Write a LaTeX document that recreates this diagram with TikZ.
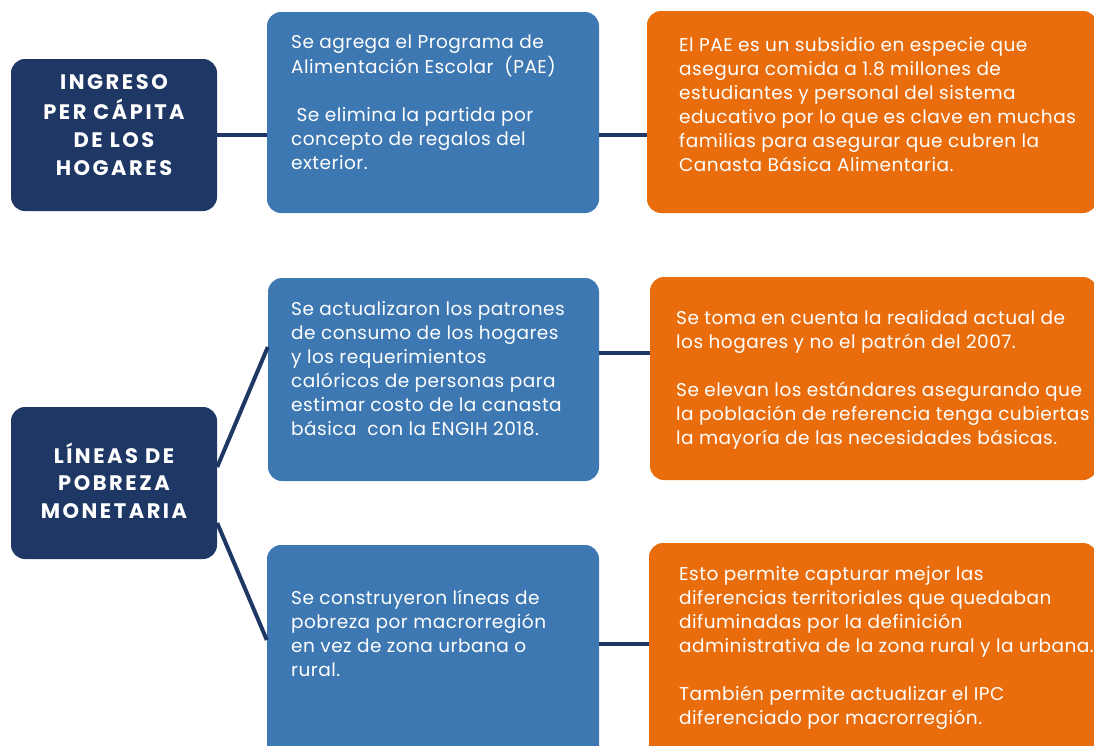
\documentclass[tikz,border=0pt]{standalone}
\usepackage{fontspec}
\setmainfont{Poppins}
\newfontfamily\bodyfont{Poppins}[LetterSpace=2.6]
\newfontfamily\titlefont{Poppins}[LetterSpace=12]
\definecolor{navy}{HTML}{1E3764}
\definecolor{midblue}{HTML}{3E78B2}
\definecolor{orng}{HTML}{E96D0C}
\begin{document}
\begin{tikzpicture}[x=1pt,y=-1pt,
  panel/.style={rectangle, rounded corners=14pt, inner sep=0pt, draw=none},
  navybox/.style={panel, fill=navy},
  bluebox/.style={panel, fill=midblue},
  orangebox/.style={panel, fill=orng},
  bodytext/.style={inner sep=0pt, anchor=north west, align=left, text=white, font=\bodyfont\fontsize{18.5}{24}\selectfont},
  titletext/.style={inner sep=0pt, anchor=north, align=center, text=white, font=\titlefont\bfseries\fontsize{21}{28}\selectfont},
  link/.style={draw=navy, line width=4pt}]
\useasboundingbox (0,0) rectangle (1094,745);
\clip (0,0) rectangle (1094,745);
% boxes
\node[navybox, minimum width=206pt, minimum height=152pt] (d1) at (114,135) {};
\node[bluebox, minimum width=332pt, minimum height=201pt] (b1) at (433,112.5) {};
\node[orangebox, minimum width=450pt, minimum height=202pt] (o1) at (872,112) {};
\node[navybox, minimum width=206pt, minimum height=152pt] (d2) at (114,483) {};
\node[bluebox, minimum width=331pt, minimum height=203pt] (b2) at (433.5,379.5) {};
\node[orangebox, minimum width=447pt, minimum height=203pt] (o2) at (873.5,378.5) {};
\node[bluebox, minimum width=332pt, minimum height=215pt] (b3) at (433,652.5) {};
\node[orangebox, minimum width=448pt, minimum height=217pt] (o3) at (873,651.5) {};
% connectors
\draw[link] (d1.east) -- (d1.east -| b1.west);
\draw[link] (b1.east |- d1.east) -- (o1.west |- d1.east);
\draw[link] ([yshift=16pt]d2.east) -- ([yshift=32.5pt]b2.west);
\draw[link] ([yshift=-40pt]d2.east) -- ([yshift=12.5pt]b3.west);
\draw[link] ([yshift=27pt]b2.east) -- ([yshift=26pt]o2.west);
\draw[link] ([yshift=8.5pt]b3.east) -- ([yshift=7.5pt]o3.west);
% titles
\node[titletext] (t1) at (114,69.4) {\strut INGRESO\\PER CÁPITA\\DE LOS\\HOGARES};
\node[titletext, font=\titlefont\bfseries\fontsize{21}{27.5}\selectfont] (t2) at (114,442.7) {\strut LÍNEAS DE\\POBREZA\\MONETARIA};
% body texts
\node[bodytext] (x1) at (291,31.2) {\strut Se agrega el Programa de\\Alimentación Escolar\ \ (PAE)\\[24pt]\ Se elimina la partida por\\concepto de regalos del\\exterior.};
\node[bodytext] (y1) at (679,34.2) {\strut El PAE es un subsidio en especie que\\asegura comida a 1.8 millones de\\estudiantes y personal del sistema\\educativo por lo que es clave en muchas\\familias para asegurar que cubren la\\Canasta Básica Alimentaria.};
\node[bodytext] (x2) at (291,298.2) {\strut Se actualizaron los patrones\\de consumo de los hogares\\y los requerimientos\\calóricos de personas para\\estimar costo de la canasta\\básica\ \ con la ENGIH 2018.};
\node[bodytext] (y2) at (676,307.2) {\strut Se toma en cuenta la realidad actual de\\los hogares y no el patrón del 2007.\\[24pt]Se elevan los estándares asegurando que\\la población de referencia tenga cubiertas\\la mayoría de las necesidades básicas.};
\node[bodytext] (x3) at (291,587.2) {\strut Se construyeron líneas de\\pobreza por macrorregión\\en vez de zona urbana o\\rural.};
\node[bodytext] (y3) at (679,563.2) {\strut Esto permite capturar mejor las\\diferencias territoriales que quedaban\\difuminadas por la definición\\administrativa de la zona rural y la urbana.\\[24pt]También permite actualizar el IPC\\diferenciado por macrorregión.};
\end{tikzpicture}
\end{document}
